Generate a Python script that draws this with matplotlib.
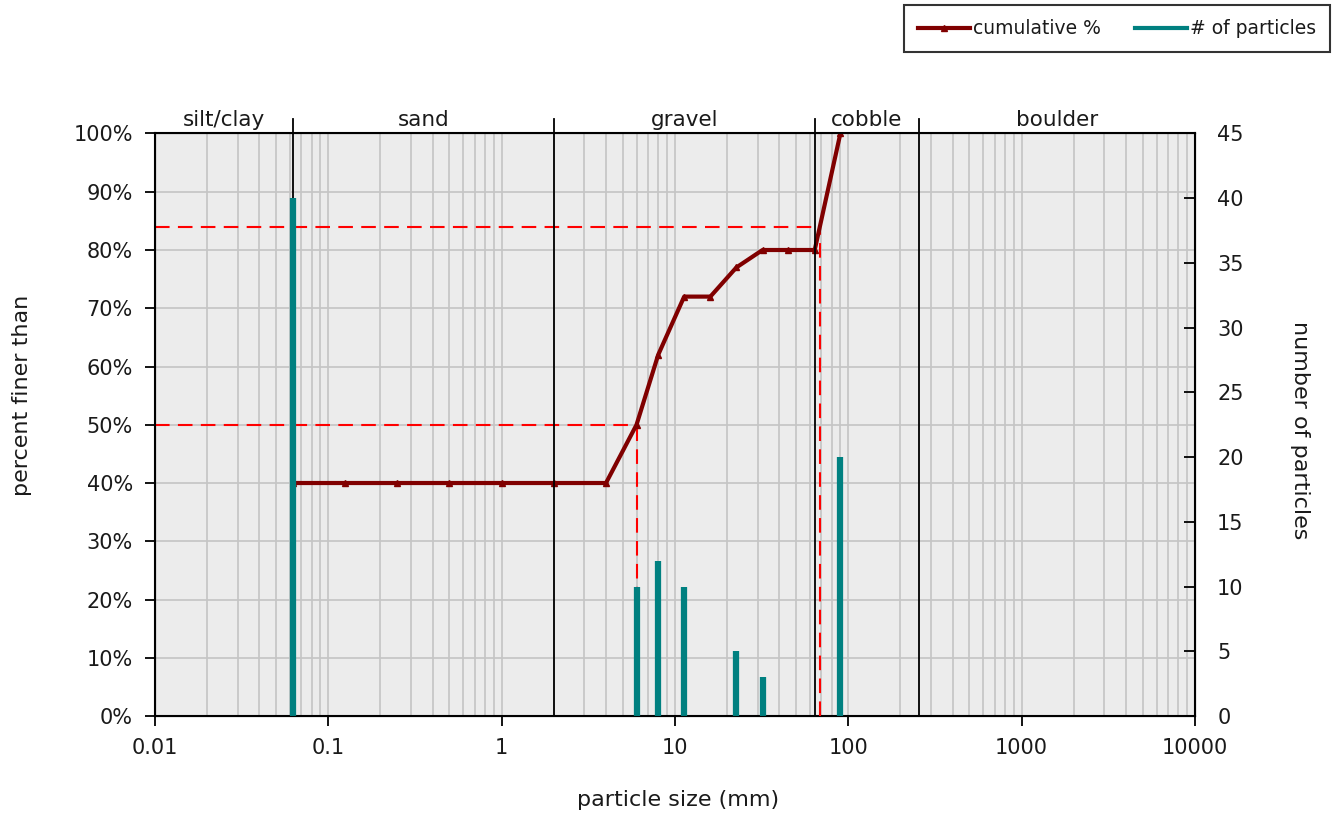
import matplotlib.pyplot as plt
from matplotlib.ticker import FixedLocator, FuncFormatter, NullFormatter, LogLocator
from matplotlib.lines import Line2D
import numpy as np

plt.rcParams['font.family'] = ['DejaVu Sans']

# sieve sizes (mm), cumulative percent finer, particle counts
sizes = [0.0625, 0.125, 0.25, 0.5, 1, 2, 4, 6, 8, 11.3, 16, 22.6, 32, 45, 64, 90]
cum_pct = [40, 40, 40, 40, 40, 40, 40, 50, 62, 72, 72, 77, 80, 80, 80, 100]
counts = [40, 0, 0, 0, 0, 0, 0, 10, 12, 10, 0, 5, 3, 0, 0, 20]

# size class boundaries and names
class_bounds = [0.0625, 2, 64, 256]
class_names = ["silt/clay", "sand", "gravel", "cobble", "boulder"]
class_edges = [0.01, 0.0625, 2, 64, 256, 10000]
x_ticks = [0.01, 0.1, 1, 10, 100, 1000, 10000]

# D50 / D84
d50, d84 = 6, 68.5

txt = '#1a1a1a'
fig = plt.figure(figsize=(13.35, 8.17), dpi=100)
ax = fig.add_axes([0.1161, 0.1236, 0.7790, 0.7130])
ax.set_facecolor('#ececec')
ax.set_xscale('log')
ax.set_xlim(0.01, 10000)
ax.set_ylim(0, 100)

ax.xaxis.set_major_locator(FixedLocator(x_ticks))
ax.xaxis.set_minor_locator(LogLocator(base=10, subs=np.arange(2, 10), numticks=20))
ax.xaxis.set_minor_formatter(NullFormatter())
ax.xaxis.set_major_formatter(FuncFormatter(lambda v, p: f"{v:g}"))
ax.yaxis.set_major_locator(FixedLocator(range(0, 101, 10)))
ax.yaxis.set_major_formatter(FuncFormatter(lambda v, p: f"{int(v)}%"))

ax.grid(True, which='both', axis='x', color='#c4c4c4', lw=1.2)
ax.grid(True, which='major', axis='y', color='#c4c4c4', lw=1.2)
ax.set_axisbelow(True)
ax.tick_params(axis='both', which='major', direction='out', length=7, width=1.3,
               labelsize=15, labelcolor=txt)
ax.tick_params(axis='x', which='major', pad=9)
ax.tick_params(axis='y', which='major', pad=9)
ax.tick_params(axis='x', which='minor', length=0)
for s in ax.spines.values():
    s.set_linewidth(1.5)

ax2 = ax.twinx()
ax2.set_ylim(0, 45)
ax2.yaxis.set_major_locator(FixedLocator(range(0, 46, 5)))
ax2.tick_params(axis='y', direction='in', length=8, width=1.3, labelsize=15,
                pad=16, labelcolor=txt)

# particle counts as thin bars
ax2.vlines(sizes, 0, counts, color='#008080', lw=4.5)

# cumulative curve
ax.plot(sizes, cum_pct, color='#800000', lw=3, marker='^', ms=4, zorder=5)

# D50 and D84 guide lines
for d, p in [(d50, 50), (d84, 84)]:
    ax.plot([0.01, d], [p, p], color='#ff0000', lw=1.5, dashes=(7, 4), zorder=4)
    ax.plot([d, d], [0, p], color='#ff0000', lw=1.5, dashes=(7, 4), zorder=4)

# size class boundaries and labels
for b in class_bounds:
    ax.plot([b, b], [0, 102.5], color='black', lw=1.3, clip_on=False, zorder=6)
for i, name in enumerate(class_names):
    xm = np.sqrt(class_edges[i] * class_edges[i + 1])
    ax.text(xm, 100.6, name, ha='center', va='bottom', fontsize=15.5, color=txt)

fig.text(678 / 1335, 1 - 800 / 817, "particle size (mm)", ha='center', va='center',
         fontsize=16, color=txt)
fig.text(22 / 1335, 1 - 395 / 817, "percent finer than", ha='center', va='center',
         rotation=90, fontsize=16, color=txt)
fig.text(1300 / 1335, 1 - 430 / 817, "number of particles", ha='center', va='center',
         rotation=270, fontsize=16, color=txt)

# legend
handles = [Line2D([], [], color='#800000', lw=3, marker='^', ms=4, markevery=[1]),
           Line2D([], [], color='#008080', lw=3)]
leg = fig.legend(handles, ["cumulative %", "# of particles"], loc='upper right',
                 bbox_to_anchor=(1 - 5 / 1335, 1 - 5 / 817), ncol=2, fontsize=13.5,
                 frameon=True, fancybox=False, edgecolor='black', handlelength=2.8,
                 handletextpad=0.15, columnspacing=1.8, borderpad=0.75, borderaxespad=0)
leg.get_frame().set_linewidth(1.5)
for t in leg.get_texts():
    t.set_color(txt)

fig.savefig("out.png", dpi=100)
